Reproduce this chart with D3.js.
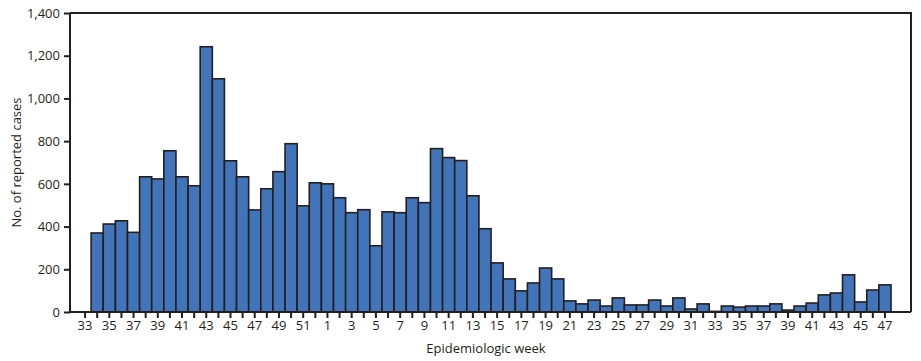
<!DOCTYPE html>
<html>
<head>
<meta charset="utf-8">
<script src="https://cdn.jsdelivr.net/npm/d3@7"></script>
<style>
  html, body { margin: 0; padding: 0; background: #fff; }
  svg { display: block; }
  text { font-family: "Open Sans", "Noto Sans", sans-serif; fill: #231f20; }
</style>
</head>
<body>
<svg id="chart" width="921" height="361"></svg>
<script>
// Epidemiologic weeks (first year weeks 33–52, second year weeks 1–47)
const weeks = [33,34,35,36,37,38,39,40,41,42,43,44,45,46,47,48,49,50,51,52,
  1,2,3,4,5,6,7,8,9,10,11,12,13,14,15,16,17,18,19,20,21,22,23,24,25,26,27,28,29,30,
  31,32,33,34,35,36,37,38,39,40,41,42,43,44,45,46,47];
const cases = [0,370,412,427,373,633,623,755,633,591,1242,1092,708,633,478,577,657,788,497,605,
  600,535,465,479,310,469,465,535,512,765,723,709,544,390,230,155,99,136,206,155,
  52,38,56,28,66,33,33,56,28,66,14,38,3,28,23,28,28,38,9,28,42,80,89,174,47,103,127];
const yTicks = [0,200,400,600,800,1000,1200,1400];
const yTitle = "No. of reported cases";
const xTitle = "Epidemiologic week";

const svg = d3.select("#chart");
const plot = { left: 70, right: 911, top: 13, bottom: 312 };
const keys = weeks.map((w, i) => i);

const x = d3.scaleBand().domain(keys).range([79, 891]).padding(0);
const y = d3.scaleLinear().domain([0, 1400]).range([plot.bottom, plot.top]);

const ink = "#231f20";

// bars
svg.append("g").selectAll("rect")
  .data(keys)
  .join("rect")
  .attr("x", i => x(i))
  .attr("y", i => y(cases[i]))
  .attr("width", x.bandwidth())
  .attr("height", i => y(0) - y(cases[i]))
  .attr("fill", "#4174b9")
  .attr("stroke", ink)
  .attr("stroke-width", 1.6);

// frame (top and right)
svg.append("path")
  .attr("d", `M${plot.left},${plot.top}H${plot.right}V${plot.bottom}`)
  .attr("fill", "none").attr("stroke", ink).attr("stroke-width", 2);

// y axis
const yAxis = d3.axisLeft(y).tickValues(yTicks).tickSize(6).tickPadding(4)
  .tickFormat(d3.format(","));
const gy = svg.append("g").attr("transform", `translate(${plot.left},0)`).call(yAxis);
gy.select(".domain").attr("stroke", ink).attr("stroke-width", 2)
  .attr("d", `M0,${plot.top}V${plot.bottom}`);
gy.selectAll(".tick line").attr("stroke", ink).attr("stroke-width", 2);
gy.selectAll(".tick text").style("font-size", "13px").attr("fill", ink)
  .style("font-family", "'Open Sans', sans-serif");

// x axis
const xAxis = d3.axisBottom(x).tickSize(6).tickPadding(3)
  .tickFormat(i => (weeks[i] % 2 === 1 ? String(weeks[i]) : ""));
const gx = svg.append("g").attr("transform", `translate(0,${plot.bottom})`).call(xAxis);
gx.select(".domain").attr("stroke", ink).attr("stroke-width", 2)
  .attr("d", `M${plot.left},0H${plot.right}`);
gx.selectAll(".tick line").attr("stroke", ink).attr("stroke-width", 2);
gx.selectAll(".tick text").style("font-size", "13px").attr("fill", ink)
  .style("font-family", "'Open Sans', sans-serif");

// titles
svg.append("text")
  .attr("transform", `translate(21,${(plot.top + plot.bottom) / 2}) rotate(-90)`)
  .attr("text-anchor", "middle")
  .style("font-size", "13px")
  .text(yTitle);
svg.append("text")
  .attr("x", 486).attr("y", 353)
  .attr("text-anchor", "middle")
  .style("font-size", "13px")
  .text(xTitle);
</script>
</body>
</html>
